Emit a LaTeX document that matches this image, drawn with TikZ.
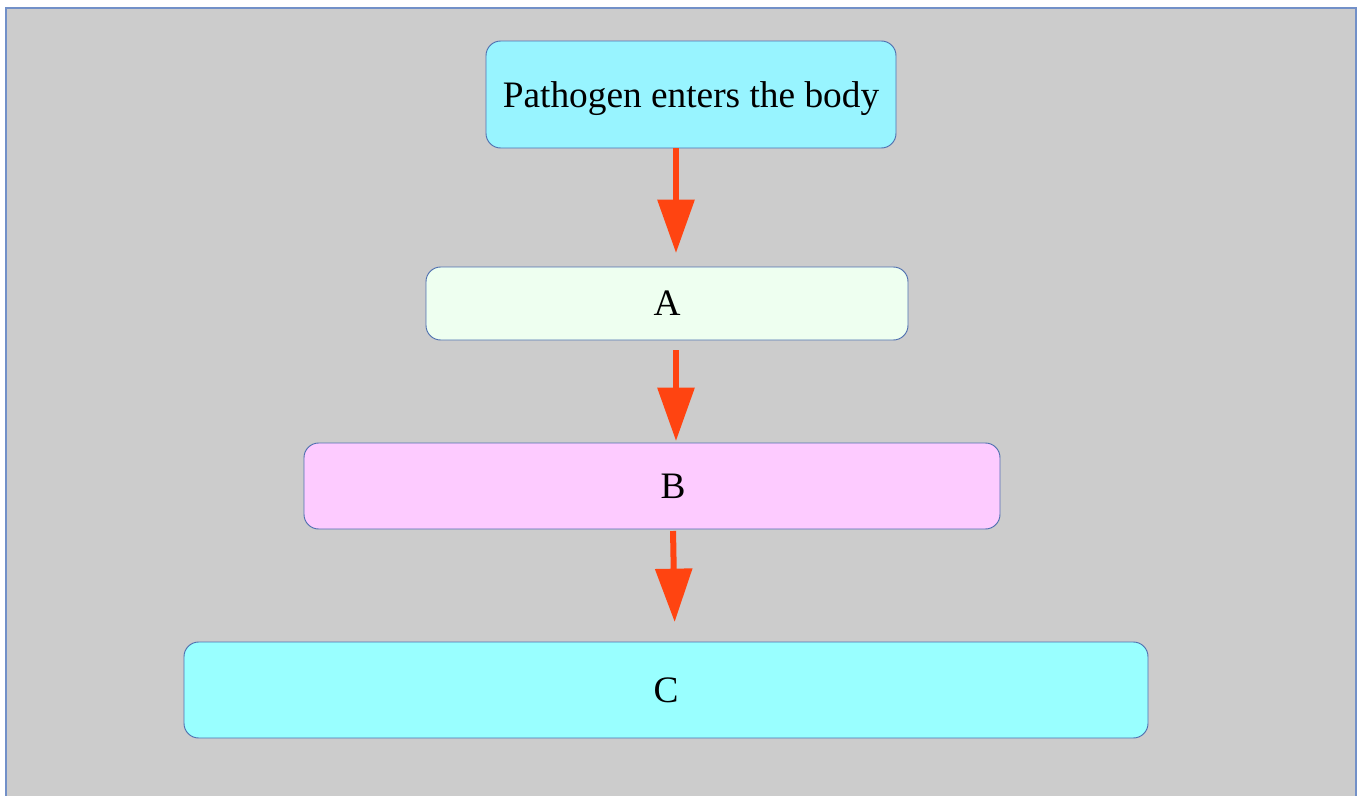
\documentclass[tikz,border=0pt]{standalone}
\usepackage{fontspec}
\setmainfont{Liberation Serif}
\usepackage{tikz}
\usetikzlibrary{positioning,arrows.meta}

\definecolor{frameblue}{HTML}{7290C8}
\definecolor{boxline}{HTML}{4F70B0}
\definecolor{bggray}{HTML}{CCCCCC}
\definecolor{cyanfill}{HTML}{98F4FF}
\definecolor{greenfill}{HTML}{EEFFF0}
\definecolor{pinkfill}{HTML}{FDCBFF}
\definecolor{aquafill}{HTML}{99FFFF}
\definecolor{arrowred}{HTML}{FF4411}

\tikzset{
  stage/.style={draw=boxline, line width=0.7pt, rounded corners=11pt,
    font=\fontsize{28}{34}\selectfont, inner sep=0pt, outer sep=0pt,
    text depth=0pt},
  flow/.style={draw=arrowred, line width=4.5pt,
    -{Triangle[length=40pt,width=27pt]}}
}

\begin{document}
\begin{tikzpicture}[x=0.75pt,y=-0.75pt]
	  \useasboundingbox (0,0) rectangle (1361,796);
	  \draw[frameblue, fill=bggray, line width=1.5pt] (6,8) rectangle (1356,810);

	  \node[stage, fill=cyanfill, minimum width=307.5pt, minimum height=80.25pt] (entry) at (691,94.5) {Pathogen enters the body} ; %
	  \node[stage, fill=greenfill, minimum width=361.5pt, minimum height=54.75pt,
	        below=89.25pt of entry, xshift=-18pt] (a) {A};
	  \node[stage, fill=pinkfill, minimum width=522pt, minimum height=64.5pt,
	        below=77.25pt of a, xshift=-11.25pt,
	        label={[xshift=15.75pt, font=\fontsize{28}{34}\selectfont]center:B}] (b) {};
	  \node[stage, fill=aquafill, minimum width=723pt, minimum height=72pt,
	        below=84.75pt of b, xshift=10.5pt] (c) {C};

	  \draw[flow, shorten >=10.5pt] ([xshift=-11.25pt]entry.south) -- ([xshift=6.75pt]a.north) ; %
	  \draw[flow, shorten <=7.5pt, shorten >=1.5pt] ([xshift=6.75pt]a.south) -- ([xshift=18pt]b.north) ;
	  \draw[flow, shorten <=1.5pt, shorten >=15pt] ([xshift=15.75pt]b.south) -- ([xshift=6.75pt]c.north) ;
\end{tikzpicture}
\end{document}
